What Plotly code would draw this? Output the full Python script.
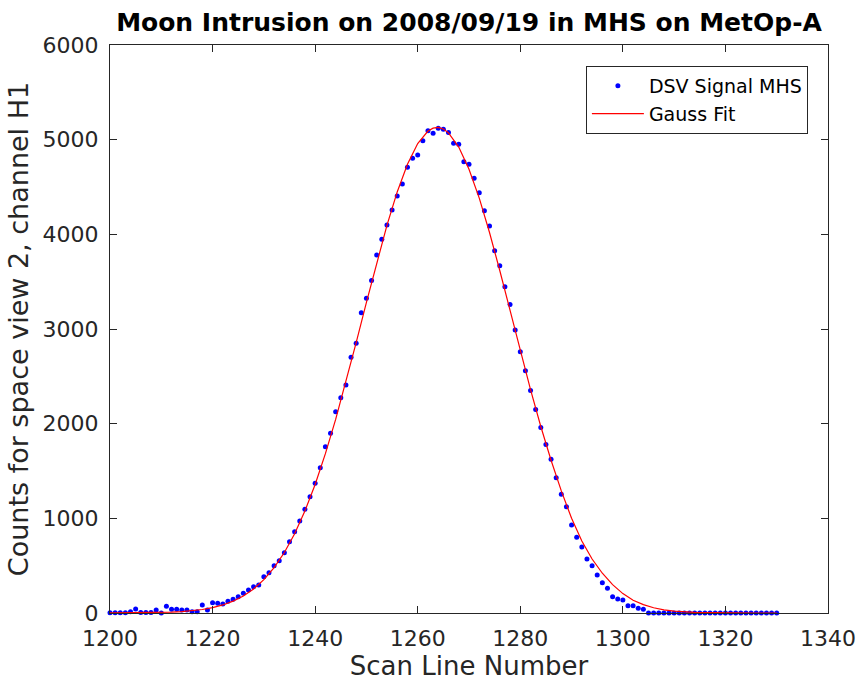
import plotly.graph_objects as go

# Scan line numbers for the DSV signal (one point per scan line)
scan_lines = list(range(1200, 1331))

# DSV signal counts
dsv_counts = [
    3, 3, 3, 3, 14, 42, 6, 6, 6, 32,            # 1200-1209
    0, 70, 39, 39, 32, 32, 14, 14, 85, 32,      # 1210-1219
    109, 102, 95, 125, 145, 172, 208, 243, 278, 296,   # 1220-1229
    384, 426, 500, 552, 637, 753, 859, 972, 1095, 1229,  # 1230-1239
    1370, 1535, 1757, 1900, 2127, 2274, 2408, 2701, 2849, 3172,  # 1240-1249
    3324, 3512, 3782, 3947, 4098, 4257, 4405, 4532, 4708, 4803,  # 1250-1259
    4838, 4989, 5093, 5067, 5120, 5109, 5075, 4961, 4951, 4767,  # 1260-1269
    4739, 4592, 4440, 4250, 4088, 3827, 3669, 3447, 3260, 2990,  # 1270-1279
    2760, 2560, 2350, 2150, 1960, 1780, 1623, 1430, 1254, 1123,  # 1280-1289
    930, 800, 697, 570, 500, 401, 320, 261, 172, 148,            # 1290-1299
    137, 77, 77, 50, 39, 0, 0, 0, 0, 0,                          # 1300-1309
    0, 0, 0, 0, 0, 0, 0, 0, 0, 0,                                # 1310-1319
    0, 0, 0, 0, 0, 0, 0, 0, 0, 0,                                # 1320-1329
    0,                                                           # 1330
]

# Gauss fit curve values
fit_x = [1200, 1204, 1208, 1212, 1214, 1216, 1218, 1220, 1222, 1224,
         1226, 1228, 1230, 1232, 1234, 1236, 1238, 1240, 1242, 1244,
         1246, 1248, 1250, 1252, 1254, 1256, 1258, 1260, 1262, 1263,
         1264, 1265, 1266, 1268, 1270, 1272, 1274, 1276, 1278, 1280,
         1282, 1284, 1286, 1288, 1290, 1292, 1294, 1296, 1298, 1300,
         1302, 1304, 1306, 1308, 1310, 1314, 1318, 1322, 1326, 1330]
fit_y = [0.4, 1.2, 3.5, 9.5, 15, 24, 37, 57, 85, 125,
         180, 254, 352, 479, 639, 837, 1077, 1358, 1683, 2045,
         2440, 2856, 3282, 3701, 4095, 4448, 4741, 4959, 5091, 5122,
         5130, 5113, 5072, 4922, 4688, 4382, 4019, 3618, 3197, 2772,
         2359, 1970, 1614, 1290, 1000, 760, 570, 420, 300, 205,
         135, 88, 55, 33, 19, 6, 2, 0.5, 0.1, 0]

x_ticks = [1200, 1220, 1240, 1260, 1280, 1300, 1320, 1340]
y_ticks = [0, 1000, 2000, 3000, 4000, 5000, 6000]

title_text = "Moon Intrusion on 2008/09/19 in MHS on MetOp-A"
x_label = "Scan Line Number"
y_label = "Counts for space view 2, channel H1"

axis_col = "#262626"
font_family = "DejaVu Sans"

fig = go.Figure()
fig.add_trace(go.Scatter(
    x=scan_lines, y=dsv_counts, mode="markers", name="DSV Signal MHS",
    marker=dict(color="#0000ff", size=5, line=dict(width=0)),
    cliponaxis=False,
))
fig.add_trace(go.Scatter(
    x=fit_x, y=fit_y, mode="lines", name="Gauss Fit",
    line=dict(color="#ff0000", width=1.2),
    cliponaxis=False,
))

axis_common = dict(
    showgrid=False, zeroline=False, showline=True, linecolor=axis_col,
    linewidth=1, mirror="ticks", ticks="inside", ticklen=7, tickwidth=1,
    tickcolor=axis_col, ticklabelstandoff=6, automargin=False,
    tickfont=dict(family=font_family, size=22, color=axis_col),
)

fig.update_layout(
    width=860, height=681,
    margin=dict(l=110, r=32, t=45, b=68),
    paper_bgcolor="white", plot_bgcolor="white",
    title=dict(text="<b>" + title_text + "</b>", x=(110 + 828) / 2 / 860, xanchor="center",
               y=1 - 22 / 681, yanchor="middle", automargin=False,
               font=dict(family=font_family, size=25, color="black")),
    xaxis=dict(range=[1200, 1340], tickvals=x_ticks,
               title=dict(text=x_label, standoff=4,
                          font=dict(family=font_family, size=26, color=axis_col)),
               **axis_common),
    yaxis=dict(range=[0, 6000], tickvals=y_ticks,
               title=dict(text=y_label, standoff=6,
                          font=dict(family=font_family, size=27, color=axis_col)),
               **axis_common),
    legend=dict(x=0.972, y=0.963, xanchor="right", yanchor="top",
                bgcolor="white", bordercolor=axis_col, borderwidth=1,
                font=dict(family=font_family, size=19, color="black"),
                tracegroupgap=0, itemwidth=52),
    showlegend=True,
)

fig.write_html("out.html")
